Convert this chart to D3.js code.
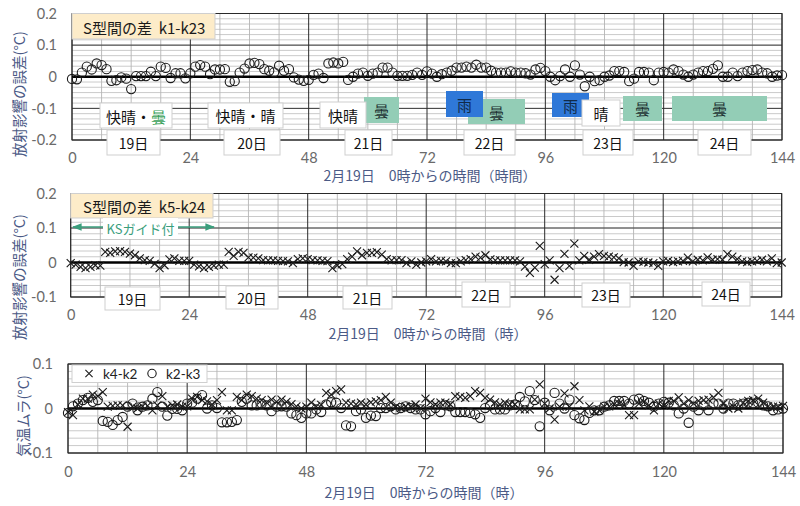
<!DOCTYPE html>
<html><head><meta charset="utf-8">
<script src="https://cdn.jsdelivr.net/npm/d3@7"></script>
<style>body{margin:0;background:#fff}svg{display:block}text{white-space:pre}</style>
</head><body><svg id="c" width="800" height="506"></svg>
<script>
// ---------- data ----------
const hours = d3.range(0, 145);            // hourly samples, 0..144 h from Feb 19 00:00
const xTickValues = [0, 24, 48, 72, 96, 120, 144];
const k1k23 = [
 -0.007,-0.008,0.013,0.032,0.023,0.042,0.037,0.024,-0.013,-0.011,-0.002,-0.006,-0.039,0.002,0.002,0.002,0.016,0.002,0.032,0.028,-0.004,0.011,0.011,-0.005,
 0.011,0.032,0.037,0.032,0.008,0.023,0.023,0.024,-0.016,-0.014,0.013,0.026,0.042,0.044,0.040,0.024,0.019,0.014,0.035,0.019,0.024,-0.002,-0.009,-0.013,
 -0.010,0.006,0.010,-0.004,0.042,0.045,0.042,0.047,-0.010,0.000,0.010,0.013,0.003,0.010,0.013,0.029,0.029,0.013,0.003,0.003,0.003,0.006,0.013,0.006,
 0.017,0.010,0.000,0.008,0.013,0.019,0.029,0.029,0.032,0.029,0.038,0.029,0.029,0.019,0.013,0.013,0.013,0.017,0.013,0.013,0.011,0.007,0.023,0.028,
 0.018,0.000,-0.011,0.002,0.023,0.000,0.036,0.007,-0.030,0.000,-0.014,-0.011,0.000,0.004,0.018,0.018,0.015,-0.014,-0.006,0.015,0.015,0.013,-0.011,0.013,
 0.015,0.013,0.023,0.018,0.007,0.000,0.007,0.013,0.018,0.018,0.025,0.036,0.000,0.000,0.013,0.002,0.013,0.018,0.021,0.023,0.013,0.011,0.000,0.004,0.005];
const k5k24 = [
 -0.002,-0.006,-0.013,-0.016,-0.013,-0.008,-0.009,0.031,0.028,0.032,0.033,0.031,0.026,0.021,0.012,0.007,0.005,-0.004,-0.016,-0.008,0.009,0.012,0.005,0.005,
 0.005,-0.006,-0.011,-0.016,-0.013,-0.009,-0.006,-0.006,0.031,0.019,0.031,0.028,0.015,0.014,0.012,0.007,0.006,0.006,0.005,0.004,0.003,-0.002,0.010,0.012,
 0.010,0.007,0.006,0.005,0.004,-0.016,-0.008,-0.005,0.010,0.017,0.032,0.021,0.028,0.028,0.030,0.023,0.010,0.006,0.007,0.007,-0.002,0.003,-0.006,0.000,
 0.003,0.010,0.003,0.005,0.003,-0.002,-0.002,0.003,0.007,0.010,0.017,0.014,0.021,0.009,0.006,0.006,0.006,0.006,0.006,0.003,-0.012,-0.030,-0.015,0.048,
 -0.005,0.006,-0.050,-0.016,0.025,-0.010,0.055,0.006,0.019,0.008,0.017,0.024,0.019,0.017,0.015,0.012,0.001,0.000,-0.010,0.003,0.002,0.000,-0.002,-0.010,
 0.003,0.005,0.001,0.003,0.005,0.014,0.003,0.008,0.006,0.015,0.008,0.010,0.008,0.024,0.017,0.010,0.003,0.001,0.003,0.005,0.008,0.003,0.012,-0.002,0.000];
const k4k2 = [
 -0.008,-0.015,0.009,0.022,0.022,0.031,0.028,0.037,0.004,0.006,0.007,0.007,-0.041,0.004,0.000,0.005,0.006,-0.004,0.007,0.028,0.004,0.007,0.009,0.004,
 0.005,0.022,0.026,0.019,0.016,0.009,0.019,0.037,-0.004,-0.004,0.026,0.019,0.031,0.028,0.022,0.019,0.013,0.020,0.015,0.020,0.015,0.010,0.005,0.000,
 0.004,0.013,0.005,0.008,0.035,0.031,0.039,0.043,0.013,0.011,0.009,0.013,0.009,0.014,0.016,0.019,0.026,0.013,0.004,0.001,0.005,0.004,0.009,0.001,
 0.022,0.014,0.009,0.013,0.013,0.009,0.028,0.026,0.024,0.028,0.039,0.035,0.024,0.020,0.014,0.009,0.013,0.009,0.009,-0.002,-0.002,-0.002,0.020,0.054,
 0.011,0.000,-0.025,0.004,0.034,0.004,0.050,0.019,-0.004,0.005,-0.007,-0.004,0.004,0.005,0.010,0.011,0.007,-0.015,-0.015,0.011,0.015,0.007,-0.004,0.011,
 0.007,0.017,0.017,0.025,0.011,0.019,0.011,0.017,0.019,0.020,0.025,0.035,0.011,0.000,0.004,0.000,0.013,0.017,0.019,0.022,0.013,0.005,0.004,0.004,0.006];
const k2k3 = [
 -0.010,0.005,0.011,0.019,0.024,0.015,0.019,-0.028,-0.030,-0.037,-0.026,-0.019,0.004,0.011,-0.004,0.004,0.007,0.022,0.037,0.004,-0.016,-0.001,-0.001,-0.004,
 0.011,0.013,0.022,0.030,0.000,0.007,0.001,-0.031,-0.031,-0.030,-0.026,0.015,0.022,0.007,0.007,0.011,0.007,-0.006,0.004,0.005,0.004,-0.011,-0.015,-0.021,
 -0.011,-0.011,-0.002,-0.008,0.009,0.014,0.013,0.001,-0.038,-0.040,-0.006,-0.002,-0.021,-0.016,-0.017,0.001,0.001,0.005,-0.002,0.001,0.005,0.001,-0.002,-0.002,
 -0.013,-0.006,0.001,-0.008,0.007,0.005,-0.008,-0.008,-0.008,-0.010,-0.013,-0.021,0.001,0.007,-0.002,-0.002,-0.002,0.007,0.009,0.026,0.016,0.039,0.019,-0.040,
 0.013,-0.004,0.035,0.011,0.000,0.020,-0.015,-0.022,-0.026,-0.010,-0.004,-0.004,0.004,0.007,0.017,0.017,0.017,0.011,0.020,0.022,0.017,0.013,0.004,0.011,
 0.015,0.013,0.007,-0.011,0.000,-0.032,0.004,-0.004,0.007,-0.004,0.011,0.011,0.000,0.011,0.011,0.007,0.011,0.013,0.011,0.013,0.007,0.005,-0.004,-0.002,0.000];
const yTicksTop = [-0.2, -0.1, 0, 0.1, 0.2];
const yTicksMid = [-0.1, 0, 0.1, 0.2];
const yTicksBot = [-0.1, 0, 0.1];
const dayLabels = ["19日", "20日", "21日", "22日", "23日", "24日"];
const yTitle12 = "放射影響の誤差(°C)";
const yTitle3 = "気温ムラ(°C)";
const xTitle1 = "2月19日　0時からの時間（時間）";
const xTitle23 = "2月19日　0時からの時間（時）";

// ---------- drawing ----------
const svg = d3.select("#c");
const NUM = "Lato, 'Liberation Sans', sans-serif";
const JP = "'Noto Sans CJK JP', sans-serif";
const TITLE_C = "#4b5a86";
const fmt = v => v === 0 ? "0" : String(v);

function panel(cfg) {
  const x = d3.scaleLinear().domain([0, 144]).range([cfg.x0, cfg.x1]);
  const y = d3.scaleLinear().domain(cfg.yDomain).range([cfg.yb, cfg.yt]);
  const g = svg.append("g");
  const step = 0.1 / 6;
  const minor = [];
  for (let v = cfg.yDomain[0]; v <= cfg.yDomain[1] + 1e-9; v += step) minor.push(v);
  g.selectAll(".mh").data(minor).join("line")
    .attr("x1", cfg.x0).attr("x2", cfg.x1)
    .attr("y1", d => y(d)).attr("y2", d => y(d))
    .attr("stroke", "#c4c4c4").attr("stroke-width", 0.9);
  g.selectAll(".mv").data(d3.range(6, 144, 6).filter(h => h % 24)).join("line")
    .attr("x1", d => x(d)).attr("x2", d => x(d))
    .attr("y1", cfg.yt).attr("y2", cfg.yb)
    .attr("stroke", "#b4b4b4").attr("stroke-width", 0.9);
  g.selectAll(".Mh").data(cfg.yTicks).join("line")
    .attr("x1", cfg.x0).attr("x2", cfg.x1)
    .attr("y1", d => y(d)).attr("y2", d => y(d))
    .attr("stroke", "#3a3a3a").attr("stroke-width", 1);
  g.selectAll(".Mv").data(xTickValues).join("line")
    .attr("x1", d => x(d)).attr("x2", d => x(d))
    .attr("y1", cfg.yt).attr("y2", cfg.yb)
    .attr("stroke", "#2a2a2a").attr("stroke-width", 1);
  g.append("rect").attr("x", cfg.x0).attr("y", cfg.yt)
    .attr("width", cfg.x1 - cfg.x0).attr("height", cfg.yb - cfg.yt)
    .attr("fill", "none").attr("stroke", "#2a2a2a").attr("stroke-width", 1);
  g.append("line").attr("x1", cfg.x0).attr("x2", cfg.x1)
    .attr("y1", y(0)).attr("y2", y(0))
    .attr("stroke", "#000").attr("stroke-width", 2.6);

  const ya = g.append("g").attr("transform", `translate(${cfg.x0},0)`)
    .call(d3.axisLeft(y).tickValues(cfg.yTicks).tickSize(0).tickPadding(cfg.yPad).tickFormat(fmt));
  ya.select(".domain").remove();
  ya.selectAll("text").attr("font-family", NUM).attr("font-size", 14.5).attr("fill", "#6a6a6a");
  const xa = g.append("g").attr("transform", `translate(0,${cfg.yb})`)
    .call(d3.axisBottom(x).tickValues(xTickValues).tickSize(0).tickFormat(d3.format("d")));
  xa.select(".domain").remove();
  xa.selectAll("text").attr("font-family", NUM).attr("font-size", 14.5).attr("fill", "#6a6a6a")
    .attr("y", cfg.xLabY - cfg.yb).attr("dy", "0.35em");
  svg.append("text").attr("transform", `translate(${cfg.ytX},${cfg.ytY}) rotate(-90)`)
    .attr("text-anchor", "middle").attr("dominant-baseline", "central")
    .attr("font-family", JP).attr("font-size", 14.5).attr("fill", TITLE_C).text(cfg.yTitle);
  svg.append("text").attr("x", cfg.xtX).attr("y", cfg.xtY)
    .attr("text-anchor", "middle").attr("dominant-baseline", "central")
    .attr("font-family", JP).attr("font-size", 14).attr("fill", TITLE_C).text(cfg.xTitle);
  return {x, y, g};
}

function circles(p, vals) {
  p.g.append("g").selectAll("circle").data(hours).join("circle")
    .attr("cx", d => p.x(d)).attr("cy", d => p.y(vals[d])).attr("r", 4.6)
    .attr("fill", "none").attr("stroke", "#1a1a1a").attr("stroke-width", 1.1);
}
function crosses(p, vals) {
  const s = 4;
  p.g.append("g").selectAll("path").data(hours).join("path")
    .attr("d", d => {
      const cx = p.x(d), cy = p.y(vals[d]);
      return `M${cx - s},${cy - s}L${cx + s},${cy + s}M${cx - s},${cy + s}L${cx + s},${cy - s}`;
    })
    .attr("fill", "none").attr("stroke", "#1a1a1a").attr("stroke-width", 1.1);
}
function box(x0, y0, x1, y1, fill, stroke) {
  return svg.append("rect").attr("x", x0).attr("y", y0).attr("width", x1 - x0).attr("height", y1 - y0)
    .attr("fill", fill).attr("stroke", stroke || "none").attr("stroke-width", 1);
}
function label(cx, cy, txt, size, color, anchor) {
  return svg.append("text").attr("x", cx).attr("y", cy).attr("text-anchor", anchor || "middle")
    .attr("dominant-baseline", "central").attr("font-family", JP).attr("font-size", size)
    .attr("fill", color || "#111").text(txt);
}

// ---- panel 1 ----
const p1 = panel({x0: 72, x1: 782, yt: 13.5, yb: 140, yDomain: [-0.2, 0.2], yTicks: yTicksTop, yPad: 15,
  xLabY: 158, ytX: 18, ytY: 94, yTitle: yTitle12, xtX: 430, xtY: 175, xTitle: xTitle1});
circles(p1, k1k23);
box(72, 13.5, 215, 39, "#fdecc9", "#cfcfcf");
label(83, 27, "S型間の差  k1-k23", 15, "#1a1a1a", "start");
const GREEN = "#93cdb6", BLUE = "#2f78d8";
box(100, 103, 172, 128, "#fff", "#cfcfcf");
const t1 = label(136, 115.5, "", 15, "#111");
t1.append("tspan").text("快晴・");
t1.append("tspan").attr("fill", "#3aa15a").text("曇");
box(208, 103, 283, 128, "#fff", "#cfcfcf"); label(245.5, 115.5, "快晴・晴", 15);
box(364, 97, 399, 123, GREEN); label(381.5, 110, "曇", 15, "#233");
box(320, 102, 366, 128, "#fff", "#cfcfcf"); label(343, 115, "快晴", 15);
box(468, 99, 525, 124, GREEN); label(496.5, 112, "曇", 15, "#233");
box(446, 91, 483, 117, BLUE); label(464.5, 104, "雨", 15, "#102a4a");
box(552, 93, 589, 117, BLUE); label(570.5, 105, "雨", 15, "#102a4a");
box(582, 100, 620, 126, "#fff", "#cfcfcf"); label(601, 113, "晴", 15);
box(623, 96, 662, 121, GREEN); label(642.5, 108.5, "曇", 15, "#233");
box(672, 96, 767, 121, GREEN); label(719.5, 108.5, "曇", 15, "#233");
const dayBoxes1 = [[107,160],[224,280],[345,392],[464,515],[583,633],[698,751]];
dayBoxes1.forEach((b, i) => { box(b[0], 130, b[1], 155, "#fff", "#cfcfcf"); label((b[0]+b[1])/2, 142.5, dayLabels[i], 14); });

// ---- panel 2 ----
const p2 = panel({x0: 70.7, x1: 781.7, yt: 193.5, yb: 297, yDomain: [-0.1, 0.2], yTicks: yTicksMid, yPad: 14,
  xLabY: 315, ytX: 18, ytY: 277, yTitle: yTitle12, xtX: 428, xtY: 333, xTitle: xTitle23});
crosses(p2, k5k24);
box(70.7, 193.5, 213, 218, "#fdecc9", "#cfcfcf");
label(83, 206, "S型間の差  k5-k24", 15, "#1a1a1a", "start");
svg.append("defs").append("marker").attr("id", "ah").attr("viewBox", "0 0 10 10")
  .attr("refX", 9).attr("refY", 5).attr("markerWidth", 6).attr("markerHeight", 6).attr("orient", "auto-start-reverse")
  .append("path").attr("d", "M0,1L10,5L0,9z").attr("fill", "#3a9e7c");
svg.append("line").attr("x1", 73).attr("x2", 214).attr("y1", 227).attr("y2", 227)
  .attr("stroke", "#3a9e7c").attr("stroke-width", 1.6)
  .attr("marker-start", "url(#ah)").attr("marker-end", "url(#ah)");
box(103, 218, 178, 239, "#fff");
label(140.5, 228.5, "KSガイド付", 13, "#3a9e7c");
const dayBoxes2 = [[105,160],[226,278],[343,392],[462,510],[582,630],[702,750]];
const dayY2 = [[287,310],[286,309],[286,309],[282,307],[283,307],[282,306]];
dayBoxes2.forEach((b, i) => { box(b[0], dayY2[i][0], b[1], dayY2[i][1], "#fff", "#cfcfcf");
  label((b[0]+b[1])/2, (dayY2[i][0]+dayY2[i][1])/2, dayLabels[i], 14); });

// ---- panel 3 ----
const p3 = panel({x0: 68, x1: 783, yt: 364, yb: 453, yDomain: [-0.1, 0.1], yTicks: yTicksBot, yPad: 15,
  xLabY: 472, ytX: 22, ytY: 416, yTitle: yTitle3, xtX: 424, xtY: 492, xTitle: xTitle23});
crosses(p3, k4k2);
circles(p3, k2k3);
box(72, 365, 207, 382.5, "#fff", "#cfcfcf");
{
  const s = 3.6, cx = 89, cy = 373.5;
  svg.append("path").attr("d", `M${cx-s},${cy-s}L${cx+s},${cy+s}M${cx-s},${cy+s}L${cx+s},${cy-s}`)
    .attr("stroke", "#1a1a1a").attr("stroke-width", 1.1);
  label(103, cy, "k4-k2", 13.5, "#222", "start").attr("font-family", NUM);
  svg.append("circle").attr("cx", 152).attr("cy", cy).attr("r", 4.2)
    .attr("fill", "none").attr("stroke", "#1a1a1a").attr("stroke-width", 1.1);
  label(166, cy, "k2-k3", 13.5, "#222", "start").attr("font-family", NUM);
}
</script></body></html>
